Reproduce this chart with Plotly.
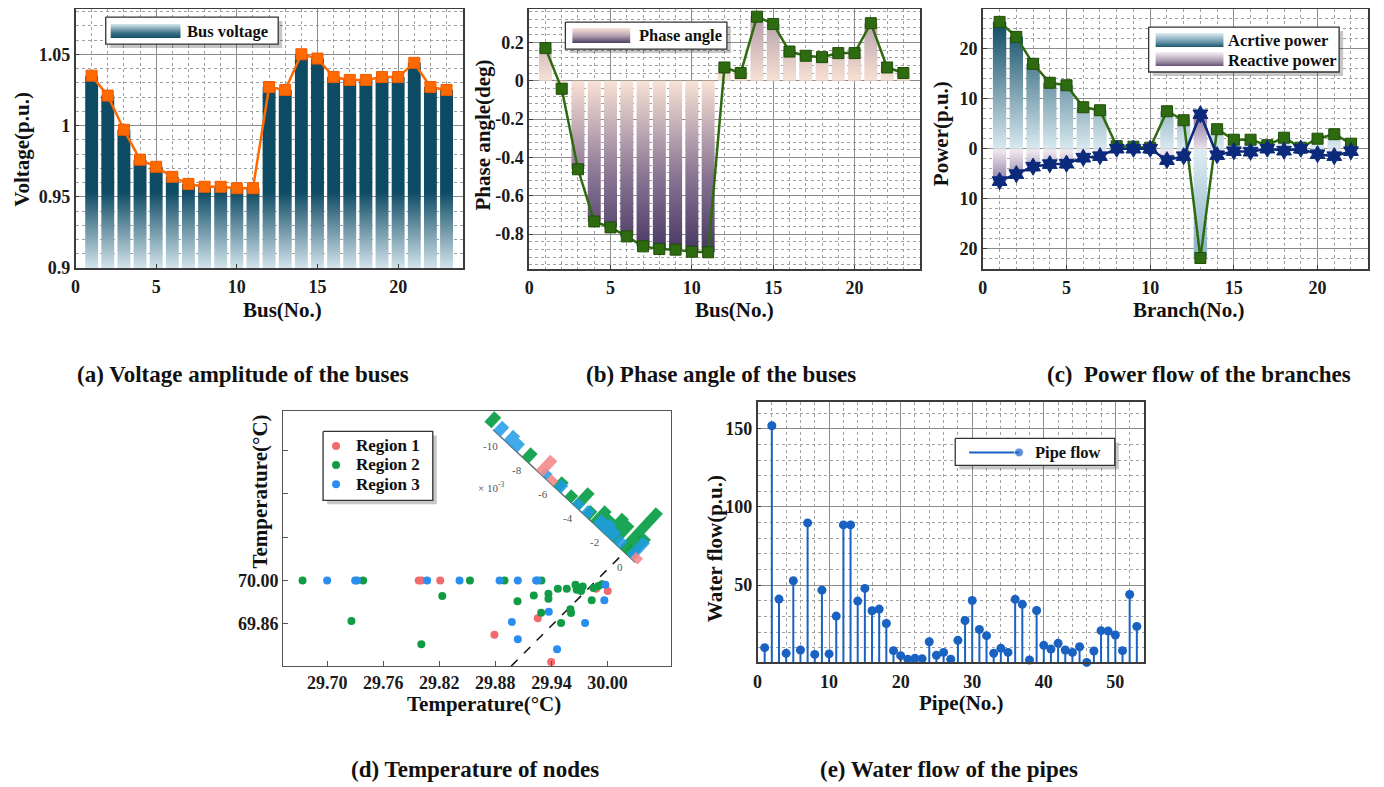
import plotly.graph_objects as go

PAGE_W = 1384
OFF = 8                       # default body margin of the page
KY = 797.0 / 787.0            # vertical compensation of the photographed page
RENDER_H = 797
W, H = PAGE_W - 2 * OFF, RENDER_H - 2 * OFF
FONT = "Liberation Serif, Times New Roman, serif"

# ---------------- data ----------------
bus = list(range(1, 24))
bus_voltage = [1.035, 1.021, 0.997, 0.976, 0.971, 0.964, 0.959, 0.957, 0.957, 0.956, 0.956,
               1.027, 1.025, 1.050, 1.047, 1.034, 1.032, 1.032, 1.034, 1.034, 1.044, 1.027, 1.025]
phase_angle = [0.170, -0.042, -0.462, -0.734, -0.765, -0.812, -0.864, -0.878, -0.881, -0.892, -0.895,
               0.069, 0.040, 0.334, 0.296, 0.152, 0.130, 0.123, 0.144, 0.144, 0.300, 0.069, 0.040]
branch = list(range(1, 23))
active_power = [25.4, 22.4, 17.0, 13.2, 12.7, 8.3, 7.7, 0.5, 0.4, 0.2, 7.5, 5.7, -21.9,
                3.9, 1.8, 1.8, 0.7, 2.2, 0.2, 2.0, 2.9, 1.0]
reactive_power = [-6.5, -5.1, -3.6, -3.1, -3.0, -1.8, -1.5, 0.0, 0.0, 0.0, -2.3, -1.5, 6.9,
                  -1.3, -0.5, -0.6, 0.0, -0.4, 0.0, -1.1, -1.5, -0.5]
pipe = list(range(1, 54))
pipe_flow = [10.0, 151.9, 41.1, 6.4, 52.8, 8.5, 89.8, 5.7, 46.8, 6.0,
             30.2, 88.5, 88.5, 39.8, 47.9, 33.6, 34.7, 25.5, 8.1, 4.9,
             2.6, 3.2, 3.0, 13.8, 5.1, 7.0, 2.6, 14.7, 27.4, 40.2,
             21.7, 17.7, 6.4, 9.6, 7.0, 40.9, 37.7, 2.1, 33.8, 11.5,
             9.1, 12.8, 8.5, 7.0, 10.6, 0.6, 7.9, 20.9, 20.6, 18.1,
             8.1, 44.0, 23.6]
# temperature of nodes
r1_x = [29.798, 29.801, 29.821, 29.879, 29.9254, 29.9397, 29.9877, 30.0002]
r1_y = [70.00, 70.00, 70.00, 69.8245, 69.8772, 69.7362, 69.9731, 69.9655]
r2_x = [29.6737, 29.7385, 29.8528, 29.8898, 29.9293, 29.8232, 29.726, 29.8008, 29.929,
        29.9037, 29.9211, 29.9368, 29.9368, 29.9468, 29.9564, 29.9657, 29.967, 29.9735,
        29.9717, 29.9603, 29.961, 29.9503, 29.9831, 29.9849, 29.9902, 29.9941]
r2_y = [70.00, 70.00, 70.00, 70.00, 70.00, 69.9494, 69.8686, 69.7932, 69.8955,
        69.9322, 69.9515, 69.9569, 69.9408, 69.9731, 69.9731, 69.986, 69.970, 69.9806,
        69.9655, 69.9063, 69.8945, 69.8622, 69.9354, 69.9752, 69.9817, 69.9871]
r3_x = [29.700, 29.730, 29.732, 29.807, 29.8417, 29.8845, 29.904, 29.9236, 29.9254,
        29.8976, 29.904, 29.9372, 29.946, 29.976, 29.9977, 29.9966]
r3_y = [70.00, 70.00, 70.00, 70.00, 70.00, 70.00, 70.00, 70.00, 70.00,
        69.8654, 69.8094, 69.8988, 69.7771, 69.8622, 69.986, 69.9354]
diag_x = [29.897, 30.036]
diag_y = [69.723, 70.145]
# inset histogram of deviations (x 1e-3): bin centre, count
inset_u_r1 = [-7.0, -6.2, 0.3]
inset_h_r1 = [2.6, 0.9, 1.0]
inset_u_r2 = [-11.0, -8.1, -5.7, -4.8, -4.2, -3.4, -2.8, -2.3, -1.8, -1.3, -0.6, -0.1]
inset_h_r2 = [1.8, 1.6, 1.6, 1.2, 2.8, 1.4, 2.6, 2.2, 3.4, 3.2, 6.8, 3.4]
inset_u_r3 = [-10.3, -9.5, -9.0, -6.7, -5.6, -4.2, -3.5, -2.6, -2.1, -1.6, -1.0, 0.0]
inset_h_r3 = [1.6, 1.7, 1.4, 1.0, 1.3, 1.0, 1.2, 1.5, 1.8, 1.5, 1.2, 3.0]
inset_ticks = [-10, -8, -6, -4, -2, 0]

# ---------------- helpers (reference page pixels -> paper) ----------------
def fx(p):
    return (p - OFF) / W

def fy(p):
    return 1 - (max(p * KY, OFF) - OFF) / H

def bar_polys(xs, vals, base, width=0.8):
    X, Y = [], []
    for x, v in zip(xs, vals):
        X += [x - width / 2, x - width / 2, x + width / 2, x + width / 2, x - width / 2, None]
        Y += [base, v, v, base, base, None]
    return X, Y

def grad_fill(X, Y, xa, ya, cs, start, stop):
    return go.Scatter(x=X, y=Y, mode='lines', line=dict(width=0), fill='toself',
                      fillgradient=dict(type='vertical', colorscale=cs, start=start, stop=stop),
                      xaxis=xa, yaxis=ya, hoverinfo='skip', showlegend=False)

fig = go.Figure()

TEAL_CS = [[0, '#dcebf2'], [0.37, '#0d4a63'], [1, '#0d4a63']]
PHASE_CS = [[0, '#43335f'], [0.35, '#8d7896'], [0.726, '#f8e1d4'], [1, '#b29ca8']]
ACT_CS = [[0, '#86aec0'], [0.464, '#dcecf2'], [1, '#0d4a63']]
REA_CS = [[0, '#85739a'], [0.485, '#efe7ee'], [1, '#85739a']]

# (a) bus voltage
X, Y = bar_polys(bus, bus_voltage, 0.9)
fig.add_trace(grad_fill(X, Y, 'x', 'y', TEAL_CS, 0.9, 1.05))
fig.add_trace(go.Scatter(x=bus, y=bus_voltage, mode='lines+markers', xaxis='x', yaxis='y',
                         line=dict(color='#ff6a00', width=2.5),
                         marker=dict(symbol='square', size=11, color='#ff6a00', line=dict(color='#f05a00', width=1)),
                         showlegend=False, hoverinfo='skip'))

# (b) phase angle
X, Y = bar_polys(bus, phase_angle, 0.0)
fig.add_trace(grad_fill(X, Y, 'x2', 'y2', PHASE_CS, -0.9, 0.34))
fig.add_trace(go.Scatter(x=bus, y=phase_angle, mode='lines+markers', xaxis='x2', yaxis='y2',
                         line=dict(color='#2e6b10', width=2.5),
                         marker=dict(symbol='square', size=11, color='#2e6b10', line=dict(color='#1f4f08', width=1)),
                         showlegend=False, hoverinfo='skip'))

# (c) power flow
X, Y = bar_polys(branch, reactive_power, 0.0)
fig.add_trace(grad_fill(X, Y, 'x3', 'y3', REA_CS, -6.6, 7.0))
X, Y = bar_polys(branch, active_power, 0.0)
fig.add_trace(grad_fill(X, Y, 'x3', 'y3', ACT_CS, -22.0, 25.4))
fig.add_trace(go.Scatter(x=branch, y=active_power, mode='lines+markers', xaxis='x3', yaxis='y3',
                         line=dict(color='#2e6b10', width=2.5),
                         marker=dict(symbol='square', size=11, color='#2e6b10', line=dict(color='#1f4f08', width=1)),
                         showlegend=False, hoverinfo='skip'))
fig.add_trace(go.Scatter(x=branch, y=reactive_power, mode='lines+markers', xaxis='x3', yaxis='y3',
                         line=dict(color='#0c2a7c', width=2.5),
                         marker=dict(symbol='hexagram', size=13, color='#0c2a7c', line=dict(color='#0c2a7c', width=1)),
                         showlegend=False, hoverinfo='skip'))

# (d) temperature of nodes
fig.add_trace(go.Scatter(x=diag_x, y=diag_y, mode='lines', xaxis='x4', yaxis='y4',
                         line=dict(color='#111111', width=1.5, dash='dash'), showlegend=False, hoverinfo='skip'))
C_R1, C_R2, C_R3 = '#f26a6e', '#109c45', '#2a8ef0'
for xs, ys, c in [(r1_x, r1_y, C_R1), (r2_x, r2_y, C_R2), (r3_x, r3_y, C_R3)]:
    fig.add_trace(go.Scatter(x=xs, y=ys, mode='markers', xaxis='x4', yaxis='y4',
                             marker=dict(size=8, color=c), showlegend=False, hoverinfo='skip'))

# (e) pipe flow stems
SX, SY = [], []
for p, v in zip(pipe, pipe_flow):
    SX += [p, p, None]
    SY += [0, v, None]
fig.add_trace(go.Scatter(x=SX, y=SY, mode='lines', xaxis='x5', yaxis='y5',
                         line=dict(color='#1a62c2', width=2), showlegend=False, hoverinfo='skip'))
fig.add_trace(go.Scatter(x=pipe, y=pipe_flow, mode='markers', xaxis='x5', yaxis='y5', cliponaxis=False,
                         marker=dict(size=9, color='#1a62c2'), showlegend=False, hoverinfo='skip'))

# ---------------- overlay (reference page pixel units) for inset + legends ----------------
O = (628.0, 557.3)      # page position of inset zero
D = (12.97, 12.07)      # px per 1e-3 along inset axis
NRM = (0.681, -0.732)   # outward normal
HU = 8.0                # px per count
BW = 0.55

def inset_point(u, h):
    return O[0] + D[0] * u + NRM[0] * h * HU, O[1] + D[1] * u + NRM[1] * h * HU

def inset_bars(us, hs):
    X, Y = [], []
    for u, h in zip(us, hs):
        for a, b in [(u - BW / 2, 0), (u - BW / 2, h), (u + BW / 2, h), (u + BW / 2, 0), (u - BW / 2, 0)]:
            px, py = inset_point(a, b)
            X.append(px)
            Y.append(py)
        X.append(None)
        Y.append(None)
    return X, Y

def ov(x, y, **kw):
    return go.Scatter(x=x, y=y, xaxis='x7', yaxis='y7', showlegend=False, hoverinfo='skip', **kw)

# inset axis
ax0 = inset_point(-10.6, 0)
ax1 = inset_point(0.4, 0)
fig.add_trace(ov([ax0[0], ax1[0]], [ax0[1], ax1[1]], mode='lines', line=dict(color='#5f6f6f', width=1.5)))
for us, hs, c, op in [(inset_u_r2, inset_h_r2, '#10a04c', 0.95), (inset_u_r3, inset_h_r3, '#1f9be8', 0.85),
                      (inset_u_r1, inset_h_r1, '#f58a8c', 0.9)]:
    X, Y = inset_bars(us, hs)
    fig.add_trace(ov(X, Y, mode='lines', line=dict(width=0), fill='toself', fillcolor=c, opacity=op))

annotations = []
for t in inset_ticks:
    px, py = inset_point(t, 0)
    annotations.append(dict(x=px - 10, y=py + 9, xref='x7', yref='y7', text=str(t),
                            xanchor='center', yanchor='middle',
                            showarrow=False, font=dict(family=FONT, size=11, color='#555555')))
annotations.append(dict(x=489, y=487, xref='x7', yref='y7', text='× 10<sup>-3</sup>', showarrow=False,
                        xanchor='center', yanchor='middle', font=dict(family=FONT, size=11, color='#555555')))

# legends (drawn manually)
def legend_box(x0, y0, x1, y1):
    fig.add_trace(ov([x0 + 4, x1 + 4, x1 + 4, x0 + 4, x0 + 4], [y0 + 4, y0 + 4, y1 + 4, y1 + 4, y0 + 4],
                     mode='lines', line=dict(width=0), fill='toself', fillcolor='rgba(0,0,0,0.22)'))
    fig.add_trace(ov([x0, x1, x1, x0, x0], [y0, y0, y1, y1, y0], mode='lines',
                     line=dict(color='#333333', width=1.3), fill='toself', fillcolor='white'))

def legend_swatch(x0, y0, x1, y1, cs):
    fig.add_trace(ov([x0, x1, x1, x0, x0], [y0, y0, y1, y1, y0], mode='lines', line=dict(width=0),
                     fill='toself', fillgradient=dict(type='vertical', colorscale=cs, start=y0, stop=y1)))

def legend_text(x, y, text, size=16.5):
    annotations.append(dict(x=x, y=y, xref='x7', yref='y7', text=text, showarrow=False,
                            xanchor='left', yanchor='middle',
                            font=dict(family=FONT, size=size, color='#111111', weight='bold')))

legend_box(102, 16, 275, 43)
legend_swatch(107, 23, 177, 37, [[0, '#d2e3ea'], [0.6, '#3f7288'], [1, '#0d4a63']])
legend_text(182, 30, 'Bus voltage')

legend_box(563, 21, 725, 48)
legend_swatch(570, 27, 628, 42, [[0, '#f8e2d6'], [0.5, '#b39fb0'], [1, '#46365f']])
legend_text(635, 34, 'Phase angle')

legend_box(1148, 26, 1339, 71)
legend_swatch(1155, 32, 1223, 46, [[0, '#d8eaf0'], [0.6, '#6b97aa'], [1, '#11506a']])
legend_swatch(1155, 51, 1223, 65, [[0, '#f2ebf1'], [0.6, '#a898ac'], [1, '#5a4670']])
legend_text(1226, 39.5, 'Acrtive power')
legend_text(1226, 59, 'Reactive power')

legend_box(320, 431, 430, 500)
for yy, c, t in [(445.5, C_R1, 'Region 1'), (464.5, C_R2, 'Region 2'), (484, C_R3, 'Region 3')]:
    fig.add_trace(ov([333], [yy], mode='markers', marker=dict(size=8, color=c)))
    legend_text(351, yy, t, 17)

legend_box(954, 438, 1114, 465)
fig.add_trace(ov([968, 1018], [452, 452], mode='lines+markers', line=dict(color='#1a62c2', width=2),
                 marker=dict(size=[0, 9], color='#1a62c2')))
legend_text(1032, 452, 'Pipe flow')

# ---------------- axes ----------------
TICKFONT = dict(family=FONT, size=18, color='#1a1a1a', weight='bold')

def axis(domain, rng, grid=True, minor=None, **kw):
    d = dict(domain=domain, range=rng, showline=True, mirror=True, linecolor='#3c3c3c', linewidth=1.5,
             ticks='inside', ticklen=4, tickcolor='#3c3c3c', tickfont=TICKFONT, showgrid=grid,
             gridcolor='#8c8c8c', gridwidth=1, zeroline=False, fixedrange=True)
    if minor is not None:
        d['minor'] = dict(tickmode='linear', tick0=minor[0], dtick=minor[1], showgrid=True,
                          gridcolor='#a0a0a0', griddash='dot', gridwidth=1, ticks='')
    d.update(kw)
    return d

layout = dict(
    width=W, height=H, margin=dict(l=0, r=0, t=0, b=0),
    paper_bgcolor='white', plot_bgcolor='rgba(0,0,0,0)', showlegend=False,
    # (a)
    xaxis=axis([fx(71.7), fx(460)], [0, 24], minor=(0, 1), anchor='y', tickmode='linear', tick0=0, dtick=5,
               ticklabelstandoff=2),
    yaxis=axis([fy(267.3), fy(8.3)], [0.9, 1.0815], minor=(0.9, 0.01), anchor='x', tickmode='array',
               tickvals=[0.9, 0.95, 1.0, 1.05], ticktext=['0.9', '0.95', '1', '1.05']),
    # (b)
    xaxis2=axis([fx(526.7), fx(918.3)], [0, 24], minor=(0, 1), anchor='y2', tickmode='linear', tick0=0, dtick=5,
                ticklabelstandoff=2),
    yaxis2=axis([fy(268.3), fy(7.9)], [-0.982, 0.374], minor=(0, 0.04), anchor='x2', tickmode='array',
                tickvals=[-0.8, -0.6, -0.4, -0.2, 0, 0.2], ticktext=['-0.8', '-0.6', '-0.4', '-0.2', '0', '0.2']),
    # (c)
    xaxis3=axis([fx(981.7), fx(1367.7)], [0, 23], minor=(0, 1), anchor='y3', tickmode='linear', tick0=0, dtick=5,
                ticklabelstandoff=2),
    yaxis3=axis([fy(268.3), fy(8.3)], [-24.1, 27.9], minor=(0, 2), anchor='x3', tickmode='array',
                tickvals=[-20, -10, 0, 10, 20], ticktext=['20', '10', '0', '10', '20']),
    # (d)
    xaxis4=axis([fx(280), fx(669)], [29.653, 30.068], grid=False, anchor='y4', tickmode='array',
                tickvals=[29.70, 29.76, 29.82, 29.88, 29.94, 30.00],
                ticktext=['29.70', '29.76', '29.82', '29.88', '29.94', '30.00'],
                linecolor='#555555', linewidth=1.3, ticklen=5, tickcolor='#555555', ticklabelstandoff=0),
    yaxis4=axis([fy(666), fy(411)], [69.723, 70.546], grid=False, anchor='x4', tickmode='array',
                tickvals=[69.86, 70.00], ticktext=['69.86', '70.00'],
                linecolor='#555555', linewidth=1.3, ticklen=5, tickcolor='#555555',
                minor=None),
    # (e)
    xaxis5=axis([fx(755.7), fx(1143.3)], [0, 54], minor=(0, 2), anchor='y5', tickmode='linear', tick0=0, dtick=10,
                ticklabelstandoff=2),
    yaxis5=axis([fy(662.3), fy(401.7)], [0.6, 167], minor=(0, 10), anchor='x5', tickmode='array',
                tickvals=[50, 100, 150], ticktext=['50', '100', '150']),
    # reference-pixel overlay covering the whole figure
    xaxis7=dict(domain=[0, 1], range=[OFF, OFF + W], visible=False, fixedrange=True, anchor='y7'),
    yaxis7=dict(domain=[0, 1], range=[(OFF + H) / KY, OFF / KY], visible=False, fixedrange=True, anchor='x7'),
)
layout['yaxis4']['minor'] = dict(tickmode='array', tickvals=[70.14, 70.28, 70.42], ticks='inside', ticklen=5,
                                 tickcolor='#555555', showgrid=False)

TITLEFONT = dict(family=FONT, size=21, color='#111111', weight='bold')
titles = [
    ('Bus(No.)', 279, 309, 0), ('Voltage(p.u.)', 18, 148, -90),
    ('Bus(No.)', 733, 309, 0), ('Phase angle(deg)', 480, 134, -90),
    ('Branch(No.)', 1188, 309, 0), ('Power(p.u.)', 940, 133, -90),
    ('Temperature(°C)', 481, 704, 0), ('Temperature(°C)', 257, 491, -90),
    ('Pipe(No.)', 960, 703, 0), ('Water flow(p.u.)', 713, 548, -90),
]
for t, x, y, ang in titles:
    annotations.append(dict(x=fx(x), y=fy(y), xref='paper', yref='paper', text=t, showarrow=False,
                            xanchor='center', yanchor='middle', textangle=ang, font=TITLEFONT))

CAPFONT = dict(family=FONT, size=23, color='#111111', weight='bold')
captions = [
    ('(a) Voltage amplitude of the buses', 240, 374),
    ('(b) Phase angle of the buses', 719, 374),
    ('(c)\u00a0 Power flow of the branches', 1198, 374),
    ('(d) Temperature of nodes', 472, 770),
    ('(e) Water flow of the pipes', 948, 770),
]
for t, x, y in captions:
    annotations.append(dict(x=fx(x), y=fy(y), xref='paper', yref='paper', text=t, showarrow=False,
                            xanchor='center', yanchor='middle', font=CAPFONT))

layout['annotations'] = annotations
fig.update_layout(**layout)

fig.write_html("out.html", config={'displayModeBar': False})
